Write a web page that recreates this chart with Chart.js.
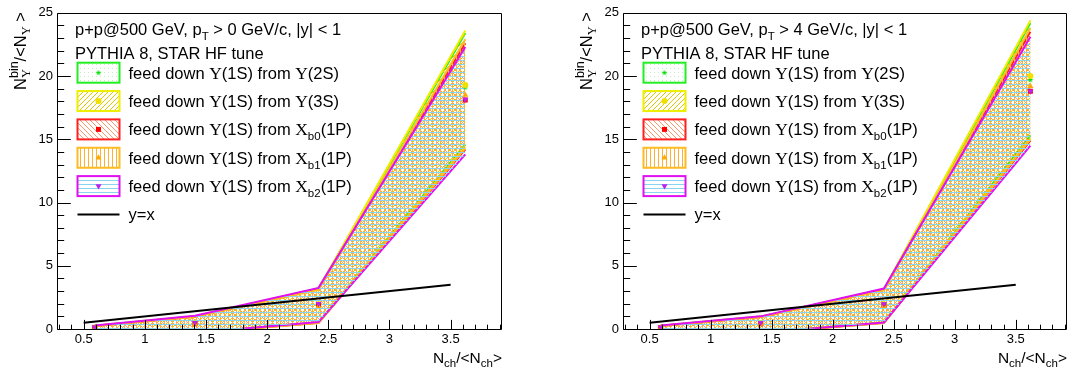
<!DOCTYPE html>
<html>
<head>
<meta charset="utf-8">
<script src="https://cdn.jsdelivr.net/npm/chart.js@4.4.1/dist/chart.umd.min.js"></script>
<style>
  body { margin: 0; background: #fff; width: 1076px; height: 374px; overflow: hidden; position: relative; }
  canvas { position: absolute; top: 0; }
</style>
</head>
<body>
<canvas id="c0" width="538" height="374" style="left:0"></canvas>
<canvas id="c1" width="538" height="374" style="left:538px"></canvas>
<script>
// ---- data ----
const xTicks = [0.5, 1, 1.5, 2, 2.5, 3, 3.5];
const yTicks = [0, 5, 10, 15, 20, 25];
const nch = [0.59, 1.41, 2.42, 3.62];
const sources = ['2S', '3S', 'b0', 'b1', 'b2'];

// pT > 0 GeV/c  (rows: 2S, 3S, Xb0, Xb1, Xb2)
const midPt0 = [
  [0.10, 0.45, 1.95, 19.1],
  [0.10, 0.45, 1.95, 19.3],
  [0.10, 0.42, 1.90, 18.1],
  [0.05, 0.40, 1.80, 18.5],
  [0.14, 0.50, 2.00, 18.15]
];
const upPt0 = [
  [0.26, 1.00, 3.20, 23.4],
  [0.26, 1.00, 3.20, 23.6],
  [0.24, 0.97, 3.15, 22.6],
  [0.24, 0.97, 3.10, 22.9],
  [0.28, 1.04, 3.25, 22.3]
];
const loPt0 = [
  [-0.02, -0.30, 0.52, 14.6],
  [-0.02, -0.30, 0.50, 14.4],
  [-0.02, -0.32, 0.50, 14.2],
  [-0.03, -0.32, 0.48, 14.3],
  [-0.01, -0.30, 0.55, 13.8]
];

// pT > 4 GeV/c
const midPt4 = [
  [0.10, 0.45, 1.95, 19.7],
  [0.10, 0.45, 1.95, 20.0],
  [0.10, 0.42, 1.90, 18.8],
  [0.05, 0.40, 1.80, 19.2],
  [0.14, 0.50, 1.98, 18.8]
];
const upPt4 = [
  [0.26, 0.98, 3.15, 24.2],
  [0.26, 0.98, 3.15, 24.4],
  [0.24, 0.95, 3.10, 23.5],
  [0.24, 0.95, 3.05, 23.8],
  [0.28, 1.00, 3.20, 23.1]
];
const loPt4 = [
  [-0.02, -0.30, 0.52, 15.3],
  [-0.02, -0.30, 0.50, 15.1],
  [-0.02, -0.32, 0.50, 14.9],
  [-0.03, -0.32, 0.48, 15.0],
  [-0.01, -0.30, 0.52, 14.5]
];

const diagX = [0.5, 3.5];
const diagY = [0.5, 3.5];

// ---- styles ----
const SANS = '"Liberation Sans", Arial, sans-serif';
const SERIF = '"Liberation Serif", "DejaVu Serif", serif';
const lineColors = ['#22ee22', '#eeee00', '#ff2020', '#ffbb22', '#e010f0'];
const markColors = ['#00e000', '#f0e000', '#ff0000', '#ffaa00', '#bb22ee'];

function tile(w, h, color, draw) {
  const c = document.createElement('canvas');
  c.width = w; c.height = h;
  const g = c.getContext('2d');
  g.fillStyle = color;
  draw(g);
  return g.createPattern(c, 'repeat');
}
const patterns = [
  tile(4, 4, 'rgba(0,200,0,0.25)', g => g.fillRect(0, 0, 1, 1)),
  tile(5, 5, '#e2c800', g => { for (let i = 0; i < 5; i++) g.fillRect(i, 4 - i, 1, 1); }),
  tile(5, 5, '#ff9a70', g => { for (let i = 0; i < 5; i++) g.fillRect(i, i, 1, 1); }),
  tile(4, 4, '#ffb030', g => g.fillRect(0, 0, 1, 4)),
  tile(4, 4, '#86d4f2', g => g.fillRect(0, 0, 4, 1))
];

function starImage(r, color) {
  const c = document.createElement('canvas');
  c.width = c.height = 2 * r + 2;
  const g = c.getContext('2d');
  g.fillStyle = color;
  g.beginPath();
  for (let i = 0; i < 10; i++) {
    const a = -Math.PI / 2 + i * Math.PI / 5;
    const rr = i % 2 ? r * 0.45 : r;
    g.lineTo(r + 1 + rr * Math.cos(a), r + 1 + rr * Math.sin(a));
  }
  g.closePath();
  g.fill();
  return c;
}
const markers = [
  { style: starImage(3, markColors[0]), rot: 0, r: 3 },
  { style: 'circle', rot: 0, r: 3 },
  { style: 'rect', rot: 0, r: 3.5 },
  { style: 'triangle', rot: 0, r: 3.5 },
  { style: 'triangle', rot: 180, r: 3.5 }
];

// ---- rich text (sub/superscripts) ----
function P(t, s, dy, f, stay) { return { t, s, dy: dy || 0, f: f || SANS, stay: !!stay }; }
function richWidth(ctx, parts) {
  let w = 0;
  parts.forEach(p => { ctx.font = p.s + 'px ' + p.f; if (!p.stay) w += ctx.measureText(p.t).width; });
  return w;
}
function drawRich(ctx, parts, x, y) {
  let cx = x;
  parts.forEach(p => {
    ctx.font = p.s + 'px ' + p.f;
    ctx.fillText(p.t, cx, y + p.dy);
    if (!p.stay) cx += ctx.measureText(p.t).width;
  });
}

const FS = 16.5, SUB = 11.5;
function legendText(k) {
  const head = [P('feed down ', FS), P('\u03A5', FS + 1, 0, SERIF), P('(1S) from ', FS)];
  if (k < 2) return head.concat([P('\u03A5', FS + 1, 0, SERIF), P('(' + sources[k] + ')', FS)]);
  return head.concat([P('\u03A7', FS + 1, 0, SERIF), P(sources[k], SUB, 5), P('(1P)', FS)]);
}

function decorPlugin(ptCut) {
  return {
    id: 'decor',
    afterDatasetsDraw(chart) {
      const { ctx, chartArea: a, scales: { x, y } } = chart;
      ctx.save();
      // frame + ROOT-like inner ticks
      ctx.strokeStyle = '#000';
      ctx.lineWidth = 1;
      const L = Math.round(a.left) - 0.5, R = Math.round(a.right) - 0.5;
      const T = Math.round(a.top) + 0.5, B = Math.round(a.bottom) + 0.5;
      ctx.beginPath();
      ctx.rect(L, T, R - L, B - T);
      for (let k = 3; k <= 39; k++) {
        const px = Math.round(x.getPixelForValue(k / 10)) + 0.5;
        const len = k % 5 === 0 ? 9.6 : 4.8;
        ctx.moveTo(px, B); ctx.lineTo(px, B - len);
      }
      for (let k = 0; k <= 25; k++) {
        const py = Math.round(y.getPixelForValue(k)) + 0.5;
        const len = k % 5 === 0 ? 13.3 : 6.7;
        ctx.moveTo(L, py); ctx.lineTo(L + len, py);
      }
      ctx.stroke();

      ctx.fillStyle = '#000';
      ctx.textBaseline = 'alphabetic';
      ctx.textAlign = 'left';
      // header
      drawRich(ctx, [P('p+p@500 GeV, p', FS), P('T', SUB, 5), P(' > ' + ptCut + ' GeV/c, |y| < 1', FS)], a.left + 17, 34.5);
      drawRich(ctx, [P('PYTHIA 8, STAR HF tune', FS)], a.left + 17, 58.5);

      // legend entries
      const bx = a.left + 19.5, bw = 42, bh = 20;
      for (let k = 0; k < 5; k++) {
        const cy = 72.7 + 28.35 * k;
        ctx.fillStyle = patterns[k];
        ctx.fillRect(bx, cy - bh / 2, bw, bh);
        ctx.strokeStyle = lineColors[k];
        ctx.lineWidth = 2;
        ctx.strokeRect(bx, cy - bh / 2, bw, bh);
        ctx.fillStyle = markColors[k];
        ctx.strokeStyle = markColors[k];
        Chart.helpers.drawPoint(ctx, { pointStyle: markers[k].style, rotation: markers[k].rot, radius: markers[k].r, borderWidth: 0 }, bx + bw / 2, cy);
        ctx.fillStyle = '#000';
        drawRich(ctx, legendText(k), a.left + 70.5, cy + 5.8);
      }
      const ly = 72.7 + 28.35 * 5;
      ctx.strokeStyle = '#000';
      ctx.lineWidth = 2;
      ctx.beginPath(); ctx.moveTo(bx, ly); ctx.lineTo(bx + bw, ly); ctx.stroke();
      drawRich(ctx, [P('y=x', FS)], a.left + 70.5, ly + 5.8);

      // x title, right aligned to the frame
      const xt = [P('N', 15.5), P('ch', SUB, 4), P('/<N', 15.5), P('ch', SUB, 4), P('>', 15.5)];
      drawRich(ctx, xt, a.right - richWidth(ctx, xt), 363);

      // y title, rotated, right aligned to the top
      const yt = [P('N', 16.5), P('\u03A5', 12.5, 4, SERIF, true), P('bin', 12.5, -7.5), P('/<N', 16.5), P('\u03A5', 12.5, 4, SERIF), P(' >', 16.5)];
      ctx.translate(a.left - 32.5, 12);
      ctx.rotate(-Math.PI / 2);
      drawRich(ctx, yt, -richWidth(ctx, yt), 0);
      ctx.restore();
    }
  };
}

function makePanel(id, mid, up, lo, yAxisW, padRight, ptCut) {
  const datasets = [];
  for (let k = 0; k < 5; k++) {
    const ord = 10 + (4 - k);
    datasets.push({
      data: nch.map((v, i) => ({ x: v, y: up[k][i] })),
      borderColor: lineColors[k], borderWidth: 2, pointRadius: 0,
      backgroundColor: patterns[k], fill: '+1', order: ord
    });
    datasets.push({
      data: nch.map((v, i) => ({ x: v, y: lo[k][i] })),
      borderColor: lineColors[k], borderWidth: 2, pointRadius: 0,
      fill: false, order: ord
    });
  }
  datasets.push({
    data: diagX.map((v, i) => ({ x: v, y: diagY[i] })),
    borderColor: '#000', borderWidth: 2, pointRadius: 0, fill: false, order: 2
  });
  for (let k = 0; k < 5; k++) {
    datasets.push({
      data: nch.map((v, i) => ({ x: v, y: mid[k][i] })),
      showLine: false, pointStyle: markers[k].style, rotation: markers[k].rot,
      pointRadius: markers[k].r, backgroundColor: markColors[k], borderColor: markColors[k],
      borderWidth: 0, order: 1 + (4 - k) * 0.1
    });
  }

  new Chart(document.getElementById(id), {
    type: 'line',
    data: { datasets },
    options: {
      responsive: false,
      animation: false,
      events: [],
      layout: { padding: { top: 9, right: padRight, left: 0, bottom: 0 } },
      elements: { line: { tension: 0 } },
      plugins: { legend: { display: false }, tooltip: { enabled: false } },
      scales: {
        x: {
          type: 'linear', min: 0.29, max: 3.92,
          grid: { display: false, drawTicks: false }, border: { display: false },
          ticks: { color: '#000', font: { size: 13, family: SANS }, padding: 3, autoSkip: false, maxRotation: 0, callback: v => String(v) },
          afterBuildTicks: s => { s.ticks = xTicks.map(v => ({ value: v })); },
          afterFit: s => { s.height = 45; }
        },
        y: {
          type: 'linear', min: 0, max: 25,
          grid: { display: false, drawTicks: false }, border: { display: false },
          ticks: { color: '#000', font: { size: 13, family: SANS }, padding: 5, autoSkip: false, callback: v => String(v) },
          afterBuildTicks: s => { s.ticks = yTicks.map(v => ({ value: v })); },
          afterFit: s => { s.width = yAxisW; }
        }
      }
    },
    plugins: [decorPlugin(ptCut)]
  });
}

makePanel('c0', midPt0, upPt0, loPt0, 58, 36, 0);
makePanel('c1', midPt4, upPt4, loPt4, 86, 9, 4);
</script>
</body>
</html>
